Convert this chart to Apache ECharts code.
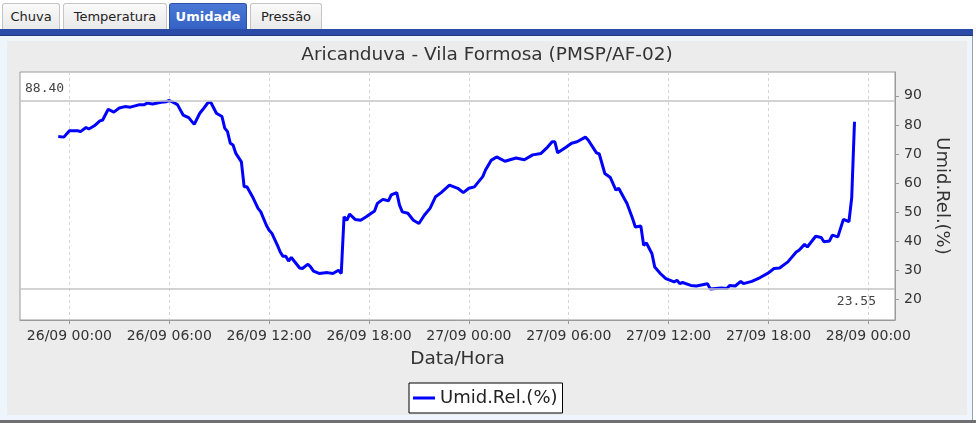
<!DOCTYPE html>
<html>
<head>
<meta charset="utf-8">
<script src="https://cdn.jsdelivr.net/npm/echarts@6/dist/echarts.min.js"></script>
<style>
  html, body { margin: 0; padding: 0; background: #ffffff; }
  #page { position: relative; width: 976px; height: 423px; overflow: hidden; font-family: "DejaVu Sans", sans-serif; }
  .tab { position: absolute; top: 3px; height: 26px; box-sizing: border-box; border: 1px solid #c5c5c5; border-bottom: none;
         border-radius: 3px 3px 0 0; background: linear-gradient(#fafafa, #e9e9e9); color: #222; font-size: 13px;
         line-height: 25px; text-align: center; }
  .tab.sel { background: linear-gradient(#4a78d6, #3462c4); border-color: #2c52a8; color: #fff; font-weight: bold; }
  #bar { position: absolute; left: 0; top: 29px; width: 973px; height: 7px; background: #2b4ba8; border-bottom: 1px solid #1f3678; box-sizing: border-box; }
  #bg { position: absolute; left: 0; top: 36px; width: 972px; height: 384px; background: #eef5fd; border-right: 1px solid #9aa0a8; }
  #bottom { position: absolute; left: 0; top: 420px; width: 976px; height: 3px; background: #707070; }
  #chart { position: absolute; left: 7px; top: 41px; width: 960px; height: 374px; background: #ececec; }
</style>
</head>
<body>
<div id="page">
  <div class="tab" style="left:2px;width:58px;">Chuva</div>
  <div class="tab" style="left:63px;width:104px;">Temperatura</div>
  <div class="tab sel" style="left:169px;width:78px;">Umidade</div>
  <div class="tab" style="left:250px;width:72px;">Pressão</div>
  <div id="bar"></div>
  <div id="bg"></div>
  <div id="chart"></div>
  <div id="bottom"></div>
</div>
<script>
// ---- data ----
var chartTitle = 'Aricanduva - Vila Formosa (PMSP/AF-02)';
var seriesName = 'Umid.Rel.(%)';
var xAxisName = 'Data/Hora';
var times = [
  '2025-09-25 23:20','2025-09-25 23:40','2025-09-26 00:00','2025-09-26 00:30','2025-09-26 00:40','2025-09-26 01:00',
  '2025-09-26 01:10','2025-09-26 01:30','2025-09-26 01:50','2025-09-26 02:00','2025-09-26 02:20','2025-09-26 02:40',
  '2025-09-26 03:00','2025-09-26 03:20','2025-09-26 03:40','2025-09-26 04:10','2025-09-26 04:30','2025-09-26 04:40',
  '2025-09-26 05:00','2025-09-26 05:30','2025-09-26 05:50','2025-09-26 06:00','2025-09-26 06:20','2025-09-26 06:30',
  '2025-09-26 06:50','2025-09-26 07:10','2025-09-26 07:30','2025-09-26 07:50','2025-09-26 08:00','2025-09-26 08:20',
  '2025-09-26 08:30','2025-09-26 08:50','2025-09-26 09:10','2025-09-26 09:20','2025-09-26 09:30','2025-09-26 09:40',
  '2025-09-26 09:50','2025-09-26 10:00','2025-09-26 10:20','2025-09-26 10:30','2025-09-26 10:40','2025-09-26 11:00',
  '2025-09-26 11:20','2025-09-26 11:30','2025-09-26 11:50','2025-09-26 12:00','2025-09-26 12:10','2025-09-26 12:30',
  '2025-09-26 12:40','2025-09-26 12:50','2025-09-26 13:00','2025-09-26 13:10','2025-09-26 13:20','2025-09-26 13:30',
  '2025-09-26 13:50','2025-09-26 14:00','2025-09-26 14:20','2025-09-26 14:30','2025-09-26 14:40','2025-09-26 15:00',
  '2025-09-26 15:30','2025-09-26 15:50','2025-09-26 16:10','2025-09-26 16:20','2025-09-26 16:30','2025-09-26 16:40',
  '2025-09-26 16:50','2025-09-26 17:10','2025-09-26 17:30','2025-09-26 17:50','2025-09-26 18:20','2025-09-26 18:30',
  '2025-09-26 18:50','2025-09-26 19:10','2025-09-26 19:20','2025-09-26 19:40','2025-09-26 19:50','2025-09-26 20:00',
  '2025-09-26 20:20','2025-09-26 20:40','2025-09-26 21:00','2025-09-26 21:20','2025-09-26 21:40','2025-09-26 22:00',
  '2025-09-26 22:20','2025-09-26 22:50','2025-09-26 23:20','2025-09-26 23:40','2025-09-27 00:00','2025-09-27 00:20',
  '2025-09-27 00:30','2025-09-27 00:50','2025-09-27 01:00','2025-09-27 01:20','2025-09-27 01:40','2025-09-27 02:10',
  '2025-09-27 02:50','2025-09-27 03:20','2025-09-27 03:50','2025-09-27 04:20','2025-09-27 04:40','2025-09-27 05:00',
  '2025-09-27 05:10','2025-09-27 05:20','2025-09-27 05:50','2025-09-27 06:10','2025-09-27 06:30','2025-09-27 07:00',
  '2025-09-27 07:10','2025-09-27 07:40','2025-09-27 07:50','2025-09-27 08:10','2025-09-27 08:30','2025-09-27 08:50',
  '2025-09-27 09:00','2025-09-27 09:20','2025-09-27 09:30','2025-09-27 09:50','2025-09-27 10:00','2025-09-27 10:20',
  '2025-09-27 10:30','2025-09-27 10:40','2025-09-27 11:00','2025-09-27 11:10','2025-09-27 11:30','2025-09-27 11:50',
  '2025-09-27 12:20','2025-09-27 12:30','2025-09-27 12:40','2025-09-27 12:50','2025-09-27 13:20','2025-09-27 13:40',
  '2025-09-27 14:20','2025-09-27 14:30','2025-09-27 15:10','2025-09-27 15:30','2025-09-27 15:40','2025-09-27 16:00',
  '2025-09-27 16:20','2025-09-27 16:30','2025-09-27 17:00','2025-09-27 17:30','2025-09-27 18:00','2025-09-27 18:20',
  '2025-09-27 18:40','2025-09-27 19:10','2025-09-27 19:40','2025-09-27 19:50','2025-09-27 20:10','2025-09-27 20:20',
  '2025-09-27 20:50','2025-09-27 21:10','2025-09-27 21:20','2025-09-27 21:40','2025-09-27 21:50','2025-09-27 22:10',
  '2025-09-27 22:30','2025-09-27 22:50','2025-09-27 23:00','2025-09-27 23:10'
];
var humidity = [
  76.0, 75.8, 78.0, 78.0, 77.7, 79.1,
  78.6, 79.7, 81.4, 81.7, 85.4, 84.4,
  85.8, 86.3, 86.1, 86.9, 86.9, 87.5,
  87.2, 87.8, 88.0, 88.4, 87.5, 86.9,
  83.4, 82.5, 80.2, 84.0, 85.2, 87.7,
  87.7, 84.0, 82.9, 78.9, 77.7, 73.7,
  73.1, 70.2, 67.3, 58.7, 58.7, 55.3,
  51.3, 50.1, 45.5, 43.8, 42.7, 38.6,
  36.3, 34.8, 34.8, 33.2, 34.4, 33.2,
  30.8, 30.6, 32.1, 31.1, 29.7, 28.9,
  29.2, 28.9, 30.0, 28.9, 48.4, 47.2,
  49.3, 47.5, 47.2, 48.4, 50.4, 53.0,
  54.4, 53.9, 55.9, 56.7, 52.4, 50.1,
  49.6, 47.2, 46.1, 49.0, 51.3, 55.3,
  56.7, 59.3, 58.2, 56.7, 58.2, 58.7,
  59.9, 62.2, 64.5, 67.8, 69.0, 67.5,
  68.6, 68.0, 69.7, 70.2, 72.0, 74.2,
  74.2, 70.4, 72.3, 73.7, 74.2, 75.8,
  74.8, 70.4, 70.0, 63.3, 61.9, 57.6,
  58.2, 54.7, 53.0, 47.8, 44.9, 45.2,
  38.6, 39.4, 35.7, 31.1, 28.9, 27.1,
  26.0, 26.6, 25.4, 25.8, 24.8, 24.6,
  25.4, 23.55, 23.9, 23.7, 24.8, 24.6,
  26.2, 25.4, 26.2, 27.5, 29.1, 30.6,
  30.8, 32.9, 36.3, 36.9, 38.9, 38.0,
  41.7, 41.3, 39.8, 40.1, 42.1, 41.5,
  47.5, 46.7, 55.0, 81.1
];
var markerValues = [88.40, 23.55];
var xTickTimes = ['2025-09-26 00:00','2025-09-26 06:00','2025-09-26 12:00','2025-09-26 18:00',
  '2025-09-27 00:00','2025-09-27 06:00','2025-09-27 12:00','2025-09-27 18:00','2025-09-28 00:00'];
var yTicks = [20, 30, 40, 50, 60, 70, 80, 90];
var xRange = ['2025-09-25 21:02', '2025-09-28 01:36'];
var yRange = [12.9, 98.2];

function parseT(s) {
  var p = s.split(/[- :]/).map(Number);
  return new Date(p[0], p[1] - 1, p[2], p[3], p[4]).getTime();
}
var seriesData = times.map(function (t, i) { return [parseT(t), humidity[i]]; });
var pad = function (n) { return (n < 10 ? '0' : '') + n; };
function fmt(v) {
  var d = new Date(v);
  return pad(d.getDate()) + '/' + pad(d.getMonth() + 1) + ' ' + pad(d.getHours()) + ':' + pad(d.getMinutes());
}
var FONT = 'DejaVu Sans';
var xTicks = xTickTimes.map(parseT);
var chart = echarts.init(document.getElementById('chart'), null, { renderer: 'canvas' });
chart.setOption({
  animation: false,
  backgroundColor: '#ececec',
  title: {
    text: chartTitle, left: 'center', top: 0,
    textStyle: { fontFamily: FONT, fontSize: 18.5, fontWeight: 'normal', color: '#333' }
  },
  grid: {
    left: 13, top: 31, width: 875, height: 248,
    show: true, backgroundColor: '#ffffff', borderColor: '#9a9a9a', borderWidth: 1
  },
  legend: {
    data: [seriesName], left: 402, top: 342,
    backgroundColor: '#ffffff', borderColor: '#000000', borderWidth: 1, borderRadius: 0,
    padding: [5, 5, 5, 4], icon: 'rect', itemWidth: 22, itemHeight: 3, itemGap: 6,
    textStyle: { fontFamily: FONT, fontSize: 18, color: '#222', lineHeight: 20 }
  },
  xAxis: {
    type: 'value',
    min: parseT(xRange[0]), max: parseT(xRange[1]),
    name: xAxisName, nameLocation: 'middle', nameGap: 30,
    nameTextStyle: { fontFamily: FONT, fontSize: 18.5, color: '#333' },
    axisLine: { show: true, lineStyle: { color: '#9a9a9a' } },
    axisTick: { show: true, length: 4, lineStyle: { color: '#9a9a9a' }, customValues: xTicks },
    axisLabel: { fontFamily: FONT, fontSize: 14, color: '#333', margin: 9, formatter: fmt, customValues: xTicks },
    splitLine: { show: true, lineStyle: { color: '#d4d4d4', type: [3, 3], width: 1 } }
  },
  yAxis: {
    type: 'value', position: 'right',
    min: yRange[0], max: yRange[1],
    name: seriesName, nameLocation: 'middle', nameGap: 37, nameRotate: -90,
    nameTextStyle: { fontFamily: FONT, fontSize: 18, color: '#333' },
    axisLine: { show: true, lineStyle: { color: '#9a9a9a' } },
    axisTick: { show: true, length: 4, lineStyle: { color: '#9a9a9a' }, customValues: yTicks },
    axisLabel: { fontFamily: FONT, fontSize: 14, color: '#333', margin: 9, customValues: yTicks },
    splitLine: { show: false }
  },
  series: [{
    name: seriesName, type: 'line', data: seriesData,
    showSymbol: false, symbol: 'none', smooth: false,
    lineStyle: { color: '#0000ff', width: 3 }, itemStyle: { color: '#0000ff' },
    markLine: {
      silent: true, symbol: 'none',
      lineStyle: { color: '#c4c4c4', type: 'solid', width: 1.5 },
      data: [
        { yAxis: markerValues[0], label: { position: 'insideStartTop', distance: [5, 5] } },
        { yAxis: markerValues[1], label: { position: 'insideEndBottom', distance: [19, 6] } }
      ],
      label: {
        formatter: function (p) { return p.value.toFixed(2); },
        fontFamily: 'DejaVu Sans Mono', fontSize: 13, color: '#444'
      }
    }
  }]
});
</script>
</body>
</html>
